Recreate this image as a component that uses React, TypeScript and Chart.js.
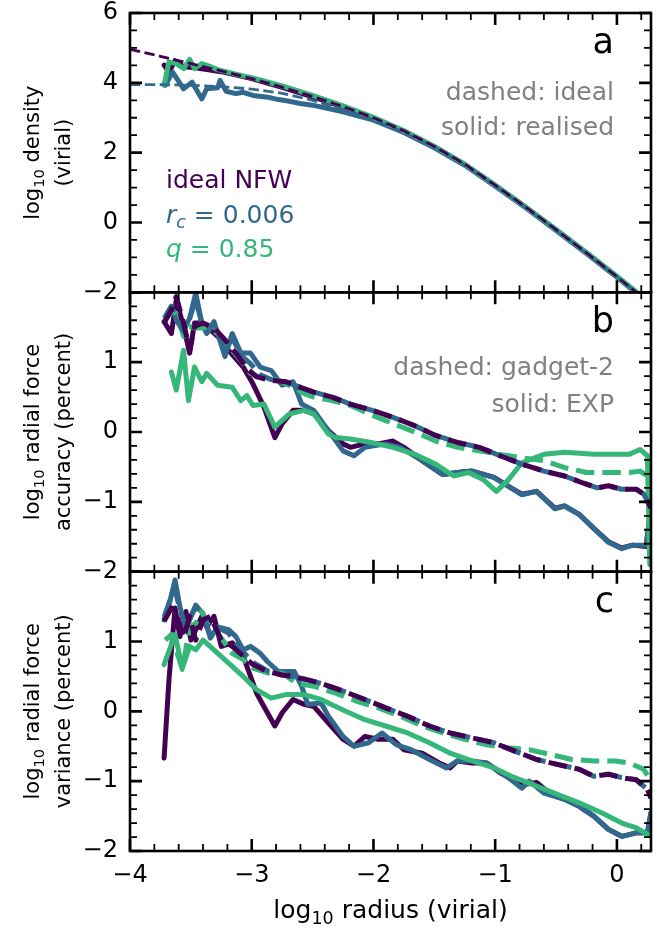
import { useEffect, useRef } from "react";
import { Chart, registerables } from "chart.js";

Chart.register(...registerables);

const FONT = '"DejaVu Sans", sans-serif';
const PURPLE = "#440154";
const BLUE = "#31688e";
const GREEN = "#35b779";
const GREY = "#808080";

// axis ranges and tick values
const X_MIN = -4;
const X_MAX = 0.28;
const X_TICKS = [-4, -3, -2, -1, 0];
const X_MINOR_STEP = 0.2;
const DENS_RANGE = [-2, 6];
const DENS_TICKS = [-2, 0, 2, 4, 6];
const DENS_MINOR_STEP = 0.5;
const FORCE_RANGE = [-2, 2];
const FORCE_TICKS = [-2, -1, 0, 1];
const FORCE_MINOR_STEP = 0.2;

// ---- panel a: log10 density vs log10 radius ----
const densNfwIdeal = [[-4.0, 4.96], [-3.75, 4.76], [-3.5, 4.55], [-3.25, 4.34], [-3.0, 4.12], [-2.75, 3.875], [-2.5, 3.61], [-2.25, 3.32], [-2.0, 3.0], [-1.75, 2.625], [-1.5, 2.18], [-1.25, 1.67], [-1.0, 1.07], [-0.75, 0.445], [-0.5, -0.205], [-0.25, -0.87], [0.0, -1.55], [0.16, -2.0], [0.25, -2.26]];
const densCoreIdeal = [[-4.0, 3.95], [-3.75, 3.95], [-3.5, 3.93], [-3.25, 3.89], [-3.0, 3.82], [-2.75, 3.7], [-2.5, 3.5], [-2.25, 3.24], [-2.0, 2.95], [-1.75, 2.59], [-1.5, 2.16], [-1.25, 1.65], [-1.0, 1.05], [-0.75, 0.43], [-0.5, -0.22], [-0.25, -0.88], [0.0, -1.56], [0.16, -2.01], [0.25, -2.27]];
const densNfw = [[-3.72, 4.51], [-3.68, 4.31], [-3.63, 4.63], [-3.56, 4.46], [-3.46, 4.43], [-3.37, 4.38], [-3.25, 4.32], [-3.0, 4.12], [-2.75, 3.87], [-2.5, 3.6], [-2.25, 3.31], [-2.0, 2.99], [-1.75, 2.62], [-1.5, 2.17], [-1.25, 1.66], [-1.0, 1.06], [-0.75, 0.44], [-0.5, -0.21], [-0.25, -0.87], [0.0, -1.55], [0.16, -2.0], [0.25, -2.26]];
const densCore = [[-3.71, 3.93], [-3.65, 4.31], [-3.56, 3.83], [-3.49, 4.02], [-3.41, 3.54], [-3.37, 3.83], [-3.28, 3.86], [-3.26, 4.07], [-3.21, 3.76], [-3.13, 3.69], [-3.07, 3.73], [-2.99, 3.64], [-2.87, 3.59], [-2.78, 3.52], [-2.69, 3.47], [-2.6, 3.41], [-2.5, 3.36], [-2.25, 3.17], [-2.0, 2.93], [-1.75, 2.58], [-1.5, 2.14], [-1.25, 1.64], [-1.0, 1.04], [-0.75, 0.42], [-0.5, -0.23], [-0.25, -0.89], [0.0, -1.57], [0.16, -2.02], [0.25, -2.28]];
const densFlat = [[-3.72, 3.93], [-3.68, 4.6], [-3.62, 4.55], [-3.56, 4.41], [-3.51, 4.67], [-3.47, 4.41], [-3.41, 4.55], [-3.35, 4.48], [-3.28, 4.38], [-3.19, 4.3], [-3.07, 4.2], [-3.0, 4.15], [-2.75, 3.91], [-2.5, 3.64], [-2.25, 3.34], [-2.0, 3.01], [-1.75, 2.63], [-1.5, 2.18], [-1.25, 1.67], [-1.0, 1.07], [-0.75, 0.445], [-0.5, -0.2], [-0.25, -0.86], [0.0, -1.54], [0.16, -1.99], [0.25, -2.25]];

// ---- panel b: log10 radial force accuracy (percent) ----
const accNfwExp = [[-3.72, 1.58], [-3.66, 1.41], [-3.62, 1.89], [-3.56, 1.51], [-3.51, 1.13], [-3.47, 1.56], [-3.41, 1.56], [-3.37, 1.51], [-3.28, 1.37], [-3.19, 1.17], [-3.07, 0.93], [-2.99, 0.69], [-2.9, 0.36], [-2.81, -0.08], [-2.75, 0.12], [-2.66, 0.31], [-2.57, 0.31], [-2.49, 0.26], [-2.37, 0.02], [-2.25, -0.17], [-2.19, -0.22], [-2.07, -0.17], [-1.96, -0.17], [-1.84, -0.13], [-1.75, -0.22], [-1.6, -0.41], [-1.43, -0.61], [-1.31, -0.58], [-1.19, -0.56], [-1.01, -0.65], [-0.87, -0.8], [-0.78, -0.89], [-0.66, -0.85], [-0.51, -1.09], [-0.43, -1.06], [-0.31, -1.18], [-0.19, -1.38], [-0.07, -1.57], [0.04, -1.66], [0.13, -1.62], [0.24, -1.64], [0.28, -1.09]];
const accCoreExp = [[-3.71, 1.65], [-3.66, 1.8], [-3.62, 1.61], [-3.56, 1.46], [-3.51, 1.63], [-3.46, 1.99], [-3.41, 1.56], [-3.37, 1.41], [-3.31, 1.58], [-3.22, 1.08], [-3.16, 1.41], [-3.09, 1.13], [-3.01, 1.13], [-2.93, 0.93], [-2.84, 0.88], [-2.75, 0.67], [-2.66, 0.72], [-2.59, 0.4], [-2.49, 0.31], [-2.37, 0.02], [-2.25, -0.27], [-2.16, -0.34], [-2.07, -0.22], [-1.9, -0.17], [-1.78, -0.22], [-1.6, -0.41], [-1.43, -0.61], [-1.31, -0.58], [-1.19, -0.56], [-1.01, -0.65], [-0.87, -0.8], [-0.78, -0.9], [-0.66, -0.85], [-0.51, -1.1], [-0.43, -1.06], [-0.31, -1.18], [-0.19, -1.38], [-0.07, -1.58], [0.04, -1.67], [0.13, -1.62], [0.24, -1.62], [0.28, -1.09]];
const accFlatExp = [[-3.66, 0.86], [-3.62, 0.6], [-3.56, 1.17], [-3.52, 0.45], [-3.47, 0.93], [-3.41, 0.72], [-3.37, 0.84], [-3.28, 0.67], [-3.16, 0.64], [-3.09, 0.45], [-3.04, 0.52], [-2.99, 0.38], [-2.9, 0.4], [-2.81, 0.07], [-2.78, 0.12], [-2.69, 0.26], [-2.57, 0.31], [-2.49, 0.26], [-2.37, -0.03], [-2.31, -0.08], [-2.19, -0.1], [-2.02, -0.15], [-1.84, -0.22], [-1.66, -0.32], [-1.49, -0.46], [-1.34, -0.63], [-1.22, -0.58], [-1.1, -0.68], [-0.99, -0.85], [-0.9, -0.7], [-0.78, -0.44], [-0.6, -0.32], [-0.43, -0.29], [-0.19, -0.32], [-0.07, -0.32], [0.1, -0.32], [0.19, -0.25], [0.25, -0.34], [0.27, -1.9]];
const accNfwGad = [[-3.72, 1.56], [-3.66, 1.75], [-3.62, 1.94], [-3.56, 1.56], [-3.51, 1.17], [-3.47, 1.51], [-3.4, 1.56], [-3.31, 1.49], [-3.22, 1.32], [-3.13, 1.13], [-3.04, 0.91], [-2.96, 0.79], [-2.84, 0.74], [-2.72, 0.72], [-2.6, 0.64], [-2.49, 0.57], [-2.34, 0.5], [-2.19, 0.4], [-2.01, 0.31], [-1.84, 0.21], [-1.66, 0.09], [-1.49, -0.05], [-1.31, -0.15], [-1.13, -0.22], [-0.96, -0.34], [-0.78, -0.46], [-0.6, -0.56], [-0.43, -0.63], [-0.28, -0.73], [-0.16, -0.8], [-0.07, -0.77], [0.04, -0.82], [0.16, -0.82], [0.22, -0.89], [0.28, -1.09]];
const accCoreGad = [[-3.71, 1.65], [-3.66, 1.8], [-3.62, 1.6], [-3.56, 1.45], [-3.51, 1.62], [-3.46, 1.9], [-3.41, 1.55], [-3.37, 1.42], [-3.31, 1.55], [-3.22, 1.15], [-3.16, 1.35], [-3.09, 1.1], [-3.01, 0.98], [-2.93, 0.82], [-2.84, 0.75], [-2.72, 0.72], [-2.6, 0.64], [-2.49, 0.57], [-2.34, 0.5], [-2.19, 0.4], [-2.01, 0.31], [-1.84, 0.21], [-1.66, 0.09], [-1.49, -0.05], [-1.31, -0.15], [-1.13, -0.22], [-0.96, -0.34], [-0.78, -0.46], [-0.6, -0.56], [-0.43, -0.63], [-0.28, -0.73], [-0.16, -0.8], [-0.07, -0.77], [0.04, -0.82], [0.16, -0.82], [0.22, -0.89], [0.28, -1.09]];
const accFlatGad = [[-3.72, 1.58], [-3.66, 1.73], [-3.62, 1.7], [-3.56, 1.37], [-3.51, 1.51], [-3.46, 1.49], [-3.37, 1.49], [-3.28, 1.41], [-3.16, 1.17], [-3.07, 0.98], [-3.01, 0.84], [-2.9, 0.76], [-2.78, 0.74], [-2.66, 0.64], [-2.57, 0.55], [-2.49, 0.5], [-2.34, 0.45], [-2.19, 0.38], [-2.01, 0.24], [-1.84, 0.12], [-1.66, 0.0], [-1.49, -0.13], [-1.31, -0.22], [-1.13, -0.27], [-0.96, -0.32], [-0.78, -0.37], [-0.6, -0.41], [-0.43, -0.51], [-0.25, -0.58], [-0.07, -0.58], [0.1, -0.58], [0.19, -0.56], [0.25, -0.63], [0.28, -0.68]];

// ---- panel c: log10 radial force variance (percent) ----
const varNfwExp = [[-3.72, -0.67], [-3.68, 0.45], [-3.63, 1.48], [-3.59, 1.07], [-3.54, 1.43], [-3.5, 1.02], [-3.46, 1.17], [-3.41, 1.36], [-3.37, 1.21], [-3.31, 1.36], [-3.25, 0.93], [-3.16, 0.98], [-3.07, 0.79], [-3.01, 0.5], [-2.96, 0.26], [-2.9, 0.07], [-2.81, -0.21], [-2.75, -0.02], [-2.66, 0.17], [-2.57, 0.1], [-2.49, 0.07], [-2.37, -0.17], [-2.25, -0.4], [-2.16, -0.5], [-2.07, -0.36], [-1.96, -0.4], [-1.84, -0.4], [-1.75, -0.55], [-1.6, -0.6], [-1.46, -0.74], [-1.37, -0.81], [-1.31, -0.71], [-1.19, -0.74], [-1.07, -0.74], [-0.96, -0.88], [-0.78, -1.05], [-0.66, -1.02], [-0.54, -1.19], [-0.43, -1.26], [-0.31, -1.36], [-0.19, -1.5], [-0.07, -1.69], [0.04, -1.79], [0.16, -1.74], [0.25, -1.74], [0.28, -1.45]];
const varCoreExp = [[-3.72, 1.31], [-3.68, 1.52], [-3.63, 1.88], [-3.59, 1.5], [-3.54, 1.17], [-3.5, 1.36], [-3.46, 1.52], [-3.4, 1.4], [-3.34, 1.05], [-3.28, 1.21], [-3.19, 1.17], [-3.13, 1.07], [-3.07, 0.88], [-3.01, 0.93], [-2.93, 0.83], [-2.87, 0.71], [-2.78, 0.57], [-2.65, 0.57], [-2.59, 0.36], [-2.54, 0.1], [-2.43, 0.12], [-2.37, -0.07], [-2.25, -0.36], [-2.16, -0.5], [-2.04, -0.45], [-1.93, -0.31], [-1.81, -0.48], [-1.69, -0.55], [-1.54, -0.69], [-1.4, -0.81], [-1.31, -0.71], [-1.19, -0.71], [-1.07, -0.74], [-0.99, -0.83], [-0.87, -0.98], [-0.78, -1.1], [-0.72, -1.0], [-0.6, -1.17], [-0.43, -1.26], [-0.31, -1.36], [-0.19, -1.5], [-0.07, -1.69], [0.04, -1.79], [0.16, -1.74], [0.25, -1.74], [0.28, -1.45]];
const varFlatExp = [[-3.72, 0.67], [-3.63, 1.1], [-3.57, 0.62], [-3.51, 0.93], [-3.46, 0.88], [-3.4, 1.02], [-3.31, 0.88], [-3.19, 0.69], [-3.07, 0.5], [-2.96, 0.31], [-2.84, 0.19], [-2.72, 0.24], [-2.57, 0.24], [-2.43, 0.17], [-2.25, 0.02], [-2.07, -0.12], [-1.9, -0.21], [-1.72, -0.31], [-1.54, -0.45], [-1.37, -0.6], [-1.19, -0.71], [-1.01, -0.81], [-0.84, -0.95], [-0.66, -1.07], [-0.49, -1.19], [-0.31, -1.31], [-0.13, -1.45], [0.04, -1.6], [0.16, -1.67], [0.25, -1.76], [0.28, -1.79]];
const varNfwGad = [[-3.72, 1.29], [-3.66, 1.48], [-3.62, 1.4], [-3.56, 1.05], [-3.51, 1.36], [-3.46, 1.02], [-3.4, 1.31], [-3.34, 1.36], [-3.25, 1.02], [-3.16, 0.93], [-3.07, 0.79], [-2.99, 0.67], [-2.87, 0.57], [-2.75, 0.52], [-2.66, 0.5], [-2.54, 0.45], [-2.43, 0.4], [-2.25, 0.29], [-2.07, 0.17], [-1.9, 0.05], [-1.72, -0.07], [-1.54, -0.21], [-1.37, -0.31], [-1.19, -0.38], [-1.01, -0.45], [-0.84, -0.57], [-0.66, -0.69], [-0.49, -0.76], [-0.31, -0.83], [-0.19, -0.93], [-0.07, -0.9], [0.04, -0.95], [0.16, -0.98], [0.25, -1.12], [0.28, -1.24]];
const varCoreGad = [[-3.72, 1.35], [-3.68, 1.55], [-3.63, 1.75], [-3.59, 1.45], [-3.54, 1.2], [-3.5, 1.35], [-3.46, 1.5], [-3.4, 1.35], [-3.34, 1.1], [-3.28, 1.2], [-3.19, 1.12], [-3.07, 0.85], [-2.99, 0.7], [-2.87, 0.58], [-2.75, 0.52], [-2.66, 0.5], [-2.54, 0.45], [-2.43, 0.4], [-2.25, 0.29], [-2.07, 0.17], [-1.9, 0.05], [-1.72, -0.07], [-1.54, -0.21], [-1.37, -0.31], [-1.19, -0.38], [-1.01, -0.45], [-0.84, -0.57], [-0.66, -0.69], [-0.49, -0.76], [-0.31, -0.83], [-0.19, -0.93], [-0.07, -0.9], [0.04, -0.95], [0.16, -0.98], [0.25, -1.12], [0.28, -1.24]];
const varFlatGad = [[-3.71, 1.02], [-3.66, 1.1], [-3.57, 0.6], [-3.51, 1.21], [-3.46, 1.26], [-3.41, 1.43], [-3.37, 1.26], [-3.28, 1.12], [-3.16, 0.83], [-3.07, 0.74], [-2.99, 0.62], [-2.87, 0.55], [-2.75, 0.55], [-2.63, 0.4], [-2.49, 0.36], [-2.31, 0.26], [-2.13, 0.14], [-1.96, 0.05], [-1.78, -0.07], [-1.6, -0.21], [-1.43, -0.31], [-1.25, -0.4], [-1.07, -0.48], [-0.9, -0.52], [-0.72, -0.55], [-0.54, -0.62], [-0.37, -0.69], [-0.19, -0.71], [-0.01, -0.71], [0.1, -0.74], [0.22, -0.83], [0.28, -1.0]];

type Seg = { t: string; sub?: boolean; it?: boolean };

const DENS_TITLE: Seg[][] = [[{ t: "log" }, { t: "10", sub: true }, { t: " density" }], [{ t: "(virial)" }]];
const ACC_TITLE: Seg[][] = [[{ t: "log" }, { t: "10", sub: true }, { t: " radial force" }], [{ t: "accuracy (percent)" }]];
const VAR_TITLE: Seg[][] = [[{ t: "log" }, { t: "10", sub: true }, { t: " radial force" }], [{ t: "variance (percent)" }]];
const X_TITLE: Seg[] = [{ t: "log" }, { t: "10", sub: true }, { t: " radius (virial)" }];
const MODEL_LABELS: { segs: Seg[]; color: string }[] = [
  { segs: [{ t: "ideal NFW" }], color: PURPLE },
  { segs: [{ t: "r", it: true }, { t: "c", it: true, sub: true }, { t: " = 0.006" }], color: BLUE },
  { segs: [{ t: "q", it: true }, { t: " = 0.85" }], color: GREEN },
];

const PANELS = [
  { id: "ya", letter: "a", minor: DENS_MINOR_STEP, title: DENS_TITLE, notes: ["dashed: ideal", "solid: realised"], noteY: [87, 122] },
  { id: "yb", letter: "b", minor: FORCE_MINOR_STEP, title: ACC_TITLE, notes: ["dashed: gadget-2", "solid: EXP"], noteY: [83, 120] },
  { id: "yc", letter: "c", minor: FORCE_MINOR_STEP, title: VAR_TITLE, notes: [] as string[], noteY: [] as number[] },
];

function segFont(s: Seg, size: number) {
  const px = s.sub ? size * 0.7 : size;
  return `${s.it ? "italic " : ""}${px}px ${FONT}`;
}

function richWidth(ctx: CanvasRenderingContext2D, segs: Seg[], size: number) {
  let w = 0;
  for (const s of segs) {
    ctx.font = segFont(s, size);
    w += ctx.measureText(s.t).width;
  }
  return w;
}

function drawRich(ctx: CanvasRenderingContext2D, segs: Seg[], x: number, y: number, size: number, align: string, color: string) {
  const w = richWidth(ctx, segs, size);
  let cx = align === "left" ? x : align === "right" ? x - w : x - w / 2;
  ctx.fillStyle = color;
  ctx.textAlign = "left";
  ctx.textBaseline = "alphabetic";
  for (const s of segs) {
    ctx.font = segFont(s, size);
    ctx.fillText(s.t, cx, y + (s.sub ? size * 0.22 : 0));
    cx += ctx.measureText(s.t).width;
  }
}

function minus(v: number) {
  return v < 0 ? "\u2212" + Math.abs(v) : String(v);
}

function stepValues(min: number, max: number, step: number) {
  const out: number[] = [];
  const start = Math.ceil(min / step - 1e-6);
  for (let k = start; k * step <= max + 1e-6; k++) out.push(+(k * step).toFixed(6));
  return out;
}

const decor = {
  id: "panelDecor",
  afterDatasetsDraw(chart: any) {
    const ctx: CanvasRenderingContext2D = chart.ctx;
    const xs = chart.scales.x;
    const { left, right } = chart.chartArea;
    ctx.save();
    ctx.strokeStyle = "#000";
    ctx.lineCap = "butt";
    for (const p of PANELS) {
      const ys = chart.scales[p.id];
      const top = ys.top;
      const bottom = ys.bottom;
      // x ticks on top and bottom edges
      for (const v of stepValues(X_MIN, X_MAX, X_MINOR_STEP)) {
        const major = Math.abs(v - Math.round(v)) < 1e-6;
        const len = major ? 12 : 7;
        const px = xs.getPixelForValue(v);
        ctx.lineWidth = major ? 2.6 : 1.8;
        ctx.beginPath();
        ctx.moveTo(px, bottom);
        ctx.lineTo(px, bottom - len);
        ctx.moveTo(px, top);
        ctx.lineTo(px, top + len);
        ctx.stroke();
      }
      // y ticks on left and right edges
      const majors = p.id === "ya" ? DENS_TICKS : FORCE_TICKS;
      for (const v of stepValues(ys.min, ys.max, p.minor)) {
        const major = majors.includes(v) || v === ys.max;
        const len = major ? 12 : 7;
        const py = ys.getPixelForValue(v);
        ctx.lineWidth = major ? 2.6 : 1.8;
        ctx.beginPath();
        ctx.moveTo(left, py);
        ctx.lineTo(left + len, py);
        ctx.moveTo(right, py);
        ctx.lineTo(right - len, py);
        ctx.stroke();
      }
      ctx.lineWidth = 2.6;
      ctx.strokeRect(left, top, right - left, bottom - top);
    }
    ctx.restore();
  },
  afterDraw(chart: any) {
    const ctx: CanvasRenderingContext2D = chart.ctx;
    const { left, right, bottom } = chart.chartArea;
    ctx.save();
    for (const p of PANELS) {
      const ys = chart.scales[p.id];
      const top = ys.top;
      // panel letter
      ctx.font = `35px ${FONT}`;
      ctx.fillStyle = "#000";
      ctx.textAlign = "right";
      ctx.textBaseline = "alphabetic";
      ctx.fillText(p.letter, right - 37, top + 40);
      // line-style notes
      p.notes.forEach((n, i) => {
        drawRich(ctx, [{ t: n }], right - 37, top + p.noteY[i], 25, "right", GREY);
      });
      // rotated axis title, two lines
      const cy = (ys.top + ys.bottom) / 2;
      p.title.forEach((segs, i) => {
        ctx.save();
        ctx.translate(39 + i * 31, cy);
        ctx.rotate(-Math.PI / 2);
        drawRich(ctx, segs, 0, 0, 21, "center", "#000");
        ctx.restore();
      });
    }
    // model key in panel a
    const ta = chart.scales.ya.top;
    MODEL_LABELS.forEach((m, i) => {
      drawRich(ctx, m.segs, left + 36, ta + 175 + i * 34.5, 25, "left", m.color);
    });
    drawRich(ctx, X_TITLE, (left + right) / 2, bottom + 67, 25, "center", "#000");
    ctx.restore();
  },
};

function lineSet(pts: number[][], color: string, axis: string, dashed: boolean, width: number, order: number) {
  return {
    data: pts.map(([x, y]) => ({ x, y })),
    xAxisID: "x",
    yAxisID: axis,
    borderColor: color,
    backgroundColor: color,
    borderWidth: width,
    borderDash: dashed ? [width * 3.7, width * 1.6] : [],
    borderCapStyle: dashed ? "butt" : "round",
    borderJoinStyle: "round",
    pointRadius: 0,
    pointHoverRadius: 0,
    tension: 0,
    fill: false,
    order,
  };
}

function yScale(range: number[], ticks: number[]) {
  return {
    type: "linear",
    position: "left",
    stack: "panels",
    stackWeight: 1,
    min: range[0],
    max: range[1],
    grid: { display: false, drawTicks: false },
    border: { display: false },
    afterBuildTicks: (s: any) => {
      s.ticks = ticks.map((v) => ({ value: v }));
    },
    afterFit: (s: any) => {
      s.width = 130;
      s.paddingTop = 0;
      s.paddingBottom = 0;
    },
    ticks: {
      autoSkip: false,
      padding: 12,
      color: "#000",
      font: { family: FONT, size: 24, lineHeight: 1 },
      callback: (v: number) => minus(v),
    },
  };
}

export default function App() {
  const ref = useRef<HTMLCanvasElement>(null);
  useEffect(() => {
    if (!ref.current) return;
    const lw = 5;
    const chart = new Chart(ref.current, {
      type: "line",
      data: {
        datasets: [
          lineSet(densNfw, PURPLE, "ya", false, lw, 6),
          lineSet(densCore, BLUE, "ya", false, lw, 5),
          lineSet(densFlat, GREEN, "ya", false, lw, 4),
          lineSet(densCoreIdeal, BLUE, "ya", true, 2.8, 2),
          lineSet(densNfwIdeal, PURPLE, "ya", true, 2.8, 1),
          lineSet(accNfwExp, PURPLE, "yb", false, lw, 6),
          lineSet(accCoreExp, BLUE, "yb", false, lw, 5),
          lineSet(accFlatExp, GREEN, "yb", false, lw, 4),
          lineSet(accFlatGad, GREEN, "yb", true, lw, 3),
          lineSet(accCoreGad, BLUE, "yb", true, lw, 2),
          lineSet(accNfwGad, PURPLE, "yb", true, lw, 1),
          lineSet(varNfwExp, PURPLE, "yc", false, lw, 6),
          lineSet(varCoreExp, BLUE, "yc", false, lw, 5),
          lineSet(varFlatExp, GREEN, "yc", false, lw, 4),
          lineSet(varFlatGad, GREEN, "yc", true, lw, 3),
          lineSet(varCoreGad, BLUE, "yc", true, lw, 2),
          lineSet(varNfwGad, PURPLE, "yc", true, lw, 1),
        ] as any,
      },
      options: {
        responsive: false,
        animation: false,
        events: [],
        layout: { padding: { top: 13, right: 13, left: 0, bottom: 0 } },
        plugins: { legend: { display: false }, tooltip: { enabled: false } },
        scales: {
          x: {
            type: "linear",
            min: X_MIN,
            max: X_MAX,
            grid: { display: false, drawTicks: false },
            border: { display: false },
            afterBuildTicks: (s: any) => {
              s.ticks = X_TICKS.map((v) => ({ value: v }));
            },
            afterFit: (s: any) => {
              s.height = 77;
              s.paddingLeft = 0;
              s.paddingRight = 0;
            },
            ticks: {
              autoSkip: false,
              maxRotation: 0,
              padding: 13,
              color: "#000",
              font: { family: FONT, size: 24, lineHeight: 1 },
              callback: (v: number) => minus(v),
            },
          },
          yc: yScale(FORCE_RANGE, FORCE_TICKS),
          yb: yScale(FORCE_RANGE, FORCE_TICKS),
          ya: yScale(DENS_RANGE, DENS_TICKS),
        } as any,
      },
      plugins: [decor as any],
    });
    return () => chart.destroy();
  }, []);
  return (
    <div style={{ position: "absolute", left: 0, top: 0, width: 664, height: 928, background: "#fff" }}>
      <canvas ref={ref} width={664} height={928} />
    </div>
  );
}
